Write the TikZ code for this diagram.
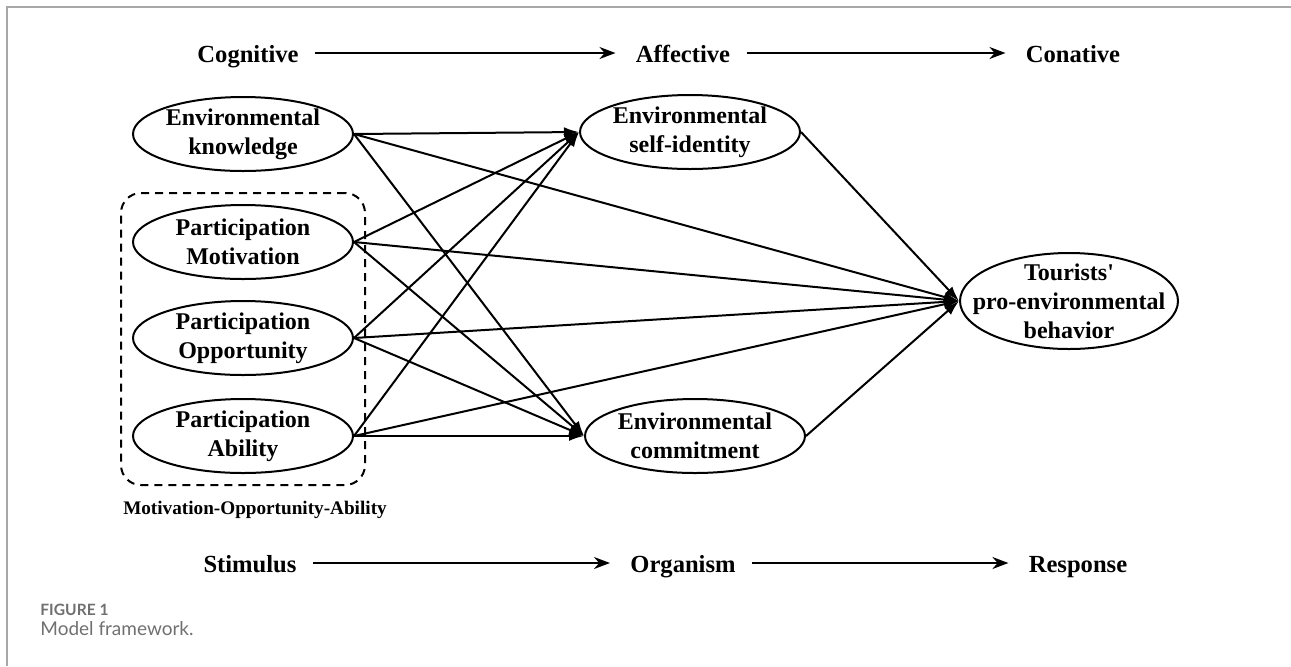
\documentclass[tikz,border=0pt]{standalone}
\usepackage{fontspec}
\setmainfont{Liberation Serif}
\newfontfamily\capfont{Lato}
\usepackage{xcolor}
\usetikzlibrary{arrows.meta,positioning,shapes.geometric,fit}
\definecolor{capgray}{HTML}{707070}
\definecolor{framegray}{HTML}{A8A8A8}

\begin{document}
\begin{tikzpicture}[x=0.5pt,y=-0.5pt,
every node/.style={font=\bfseries\fontsize{12}{14.5}\selectfont,align=center},
var/.style={draw,ellipse,line width=1pt,inner sep=0pt,minimum width=110pt,minimum height=37pt},
head/.style={font=\bfseries\fontsize{12.3}{15}\selectfont,inner sep=0pt,text height=10pt,text depth=1pt},
go/.style={-{Latex[length=7.5pt,width=5pt]},line width=1pt},
flow/.style={-{Stealth[length=8pt,width=6pt]},line width=1pt,shorten <=8pt,shorten >=10pt}]
\useasboundingbox (0,0) rectangle (1291,666);
\draw[framegray,line width=.8pt] (7,666) -- (7,7) -- (1291,7);
% stages
\node[head] (cog) at (248,53) {Cognitive};
\node[head] (aff) at (683,53) {Affective};
\node[head] (con) at (1073,53) {Conative};
\node[head] (stim) at (250,563) {Stimulus};
\node[head] (org) at (683,563) {Organism};
\node[head] (resp) at (1078,563) {Response};
\draw[flow] (cog)--(aff);\draw[flow] (aff)--(con);
\draw[flow] (stim)--(org);\draw[flow] (org)--(resp);
% variables
\node[var] (know) at (243,134) {Environmental\\knowledge};
\node[var] (mot) at (243,242) {Participation\\Motivation};
\node[var] (opp) at (243,338) {Participation\\Opportunity};
\node[var] (abil) at (243,436) {Participation\\Ability};
\node[var] (self) at (690,132) {Environmental\\self-identity};
\node[var] (com) at (695,436) {Environmental\\commitment};
\node[var,inner xsep=-10pt,inner ysep=-3.5pt,minimum width=109pt,minimum height=48pt] (tour) at (1069,301) {Tourists\textquotesingle\\pro-environmental\\behavior};
\node[fit=(mot)(opp)(abil),draw,dashed,dash pattern=on 4pt off 3pt,rounded corners=10pt,inner sep=5.5pt,line width=1pt] (moa) {};
\node[font=\bfseries\fontsize{9.6}{11}\selectfont] (moalab) at (255,510) {Motivation-Opportunity-Ability};
% paths
\foreach \s in {know,mot,opp,abil}{
  \draw[go] (\s.east)--(self.west);
  \draw[go] (\s.east)--(com.west);
  \draw[go] (\s.east)--(tour.west);
}
\draw[go] (self.east)--(tour.west);\draw[go] (com.east)--(tour.west);
% caption
\node[anchor=west,inner sep=0pt,font=\capfont\bfseries\fontsize{7.8}{9}\selectfont,text=capgray] (fig) at (40,610) {FIGURE 1};
\node[anchor=west,inner sep=0pt,font=\capfont\fontsize{9.5}{11}\selectfont,text=capgray] (capt) at (40,629) {Model framework.};
\end{tikzpicture}
\end{document}
